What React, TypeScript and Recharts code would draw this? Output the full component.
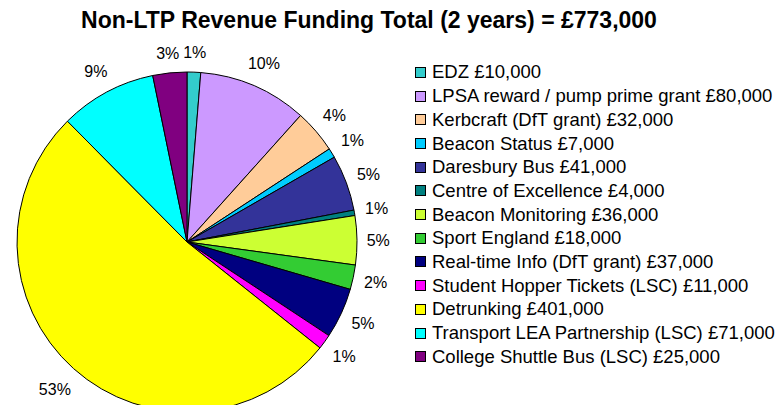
import React from 'react';
import { PieChart, Pie, Cell, Legend } from 'recharts';

const categories = [
  'EDZ £10,000',
  'LPSA reward / pump prime grant £80,000',
  'Kerbcraft (DfT grant) £32,000',
  'Beacon Status £7,000',
  'Daresbury Bus £41,000',
  'Centre of Excellence £4,000',
  'Beacon Monitoring £36,000',
  'Sport England £18,000',
  'Real-time Info (DfT grant) £37,000',
  'Student Hopper Tickets (LSC) £11,000',
  'Detrunking £401,000',
  'Transport LEA Partnership (LSC) £71,000',
  'College Shuttle Bus (LSC) £25,000',
];
const values = [10, 80, 32, 7, 41, 4, 36, 18, 37, 11, 401, 71, 25];
const percentLabels = ['1%', '10%', '4%', '1%', '5%', '1%', '5%', '2%', '5%', '1%', '53%', '9%', '3%'];
const colors = [
  '#33CCCC', '#CC99FF', '#FFCC99', '#00CCFF', '#333399', '#008080', '#CCFF33',
  '#33CC33', '#000080', '#FF00FF', '#FFFF00', '#00FFFF', '#800080',
];
const title = 'Non-LTP Revenue Funding Total (2 years) = £773,000';

const data = categories.map((name, i) => ({ name, value: values[i] }));

const FONT = '"Liberation Sans", Arial, Helvetica, sans-serif';

const renderLabel = (props: any) => {
  const { cx, cy, midAngle, outerRadius, index } = props;
  const text = percentLabels[index];
  const fs = 16;
  const w = text.length * fs * 0.7;
  const h = fs * 1.1;
  const rad = (-midAngle * Math.PI) / 180;
  const c = Math.cos(rad);
  const s = Math.sin(rad);
  const r = outerRadius + 10 + (w / 2) * Math.abs(c) + (h / 2) * Math.abs(s);
  return (
    <text
      x={cx + r * c}
      y={cy + r * s}
      textAnchor="middle"
      dominantBaseline="central"
      fontFamily={FONT}
      fontSize={fs}
      fill="#000"
    >
      {text}
    </text>
  );
};

const renderLegend = () => (
  <div style={{ fontFamily: FONT, fontSize: 18.5, color: '#000' }}>
    {categories.map((name, i) => (
      <div key={name} style={{ height: 23.7, display: 'flex', alignItems: 'center', whiteSpace: 'nowrap' }}>
        <span
          style={{
            display: 'inline-block',
            flex: '0 0 auto',
            width: 9,
            height: 9,
            background: colors[i],
            border: '1px solid #000',
            marginRight: 6,
          }}
        />
        <span>{name}</span>
      </div>
    ))}
  </div>
);

export default function App() {
  return (
    <div style={{ position: 'relative', width: 776, height: 397 }}>
      <div
        style={{
          position: 'absolute',
          left: 0,
          top: 1,
          width: 722,
          textAlign: 'center',
          fontFamily: FONT,
          fontWeight: 'bold',
          fontSize: 23,
          lineHeight: '22px',
          whiteSpace: 'nowrap',
          zIndex: 2,
        }}
      >
        {title}
      </div>
      <PieChart width={776} height={397}>
        <Pie
          data={data}
          dataKey="value"
          nameKey="name"
          cx={174}
          cy={229}
          outerRadius={170}
          startAngle={90}
          endAngle={-270}
          stroke="#000"
          strokeWidth={1}
          label={renderLabel}
          labelLine={false}
          isAnimationActive={false}
        >
          {data.map((d, i) => (
            <Cell key={d.name} fill={colors[i]} />
          ))}
        </Pie>
        <Legend
          content={renderLegend}
          layout="vertical"
          align="right"
          verticalAlign="top"
          wrapperStyle={{ position: 'absolute', left: 407, top: 52.6, width: 369 }}
        />
      </PieChart>
    </div>
  );
}
